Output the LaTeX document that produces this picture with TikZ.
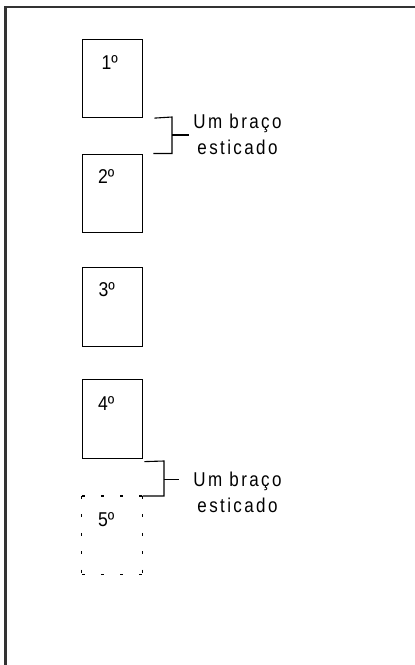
\documentclass[tikz,border=0pt]{standalone}
\usepackage{fontspec}
\usetikzlibrary{calc}
\newfontfamily\lblfont[FakeStretch=0.88]{Liberation Sans}
\newfontfamily\notefont[FakeStretch=0.85,LetterSpace=12]{Liberation Sans}
\begin{document}
\begin{tikzpicture}[x=1pt,y=-1pt,
  posbox/.style={rectangle,draw,line width=1.1pt,inner sep=0pt,minimum width=60.5pt,minimum height=78.5pt,anchor=north west},
  ghostbox/.style={rectangle,draw=none,inner sep=0pt,minimum width=60.5pt,minimum height=78.5pt,anchor=north west},
  numlbl/.style={anchor=base west,inner sep=0pt,font=\lblfont\fontsize{20pt}{22pt}\selectfont},
  notelbl/.style={anchor=base,inner sep=0pt,font=\notefont\fontsize{20pt}{22pt}\selectfont},
  brk/.style={line width=1.1pt},
  frame/.style={line width=2.2pt,draw=black!80}]
\useasboundingbox (0,0) rectangle (415,665);
% frame
\coordinate (fbl) at (5.5,665);
\coordinate (ftl) at (5.5,7.3);
\coordinate (ftr) at (415,7.3);
\draw[frame] (fbl) -- (ftl) -- (ftr);
% boxes
\node[posbox] (b1) at (81.8,38.5) {};
\node[posbox] (b2) at (81.8,153.5) {};
\node[posbox] (b3) at (81.8,267) {};
\node[posbox] (b4) at (81.8,379) {};
\node[ghostbox] (b5) at (81.8,496) {};
\draw[line width=1.1pt,dash pattern=on 3pt off 16.17pt] (b5.north west) -- (b5.north east);
\draw[line width=1.1pt,dash pattern=on 3pt off 16.17pt] (b5.south west) -- (b5.south east);
\draw[line width=1.1pt,dash pattern=on 3pt off 15.4pt] (b5.north west) -- (b5.south west);
\draw[line width=1.1pt,dash pattern=on 3pt off 15.4pt] (b5.north east) -- (b5.south east);
% labels
\node[numlbl] (l1) at ($(b1.north west)+(19.5,30.8)$) {1º};
\node[numlbl] (l2) at ($(b2.north west)+(16,30)$) {2º};
\node[numlbl] (l3) at ($(b3.north west)+(16.5,29)$) {3º};
\node[numlbl] (l4) at ($(b4.north west)+(16,31)$) {4º};
\node[numlbl] (l5) at ($(b5.north west)+(16,30)$) {5º};
% bracket 1
\coordinate (k1a) at ($(b1.south east)+(11,0)$);
\coordinate (k1b) at (172,117);
\coordinate (k1c) at (172,153.5);
\coordinate (k1d) at ($(b2.north east)+(10,0)$);
\coordinate (k1m) at (172,135);
\coordinate (k1e) at (188.5,135);
\draw[brk] (k1a) -- (k1b) -- (k1c) -- (k1d);
\draw[brk] (k1m) -- (k1e);
\node[notelbl] (t1a) at (237.5,128.6) {Um braço};
\node[notelbl] (t1b) at (237.5,154.8) {esticado};
% bracket 2
\coordinate (k2a) at ($(b4.south east)+(1,3)$);
\coordinate (k2b) at (164,461);
\coordinate (k2c) at (164,496);
\coordinate (k2d) at (b5.north east);
\coordinate (k2m) at (164,479.3);
\coordinate (k2e) at (179,479.3);
\draw[brk] (k2a) -- (k2b) -- (k2c) -- (k2d);
\draw[brk] (k2m) -- (k2e);
\node[notelbl] (t2a) at (237.5,486.5) {Um braço};
\node[notelbl] (t2b) at (237.5,512.7) {esticado};
\end{tikzpicture}
\end{document}
